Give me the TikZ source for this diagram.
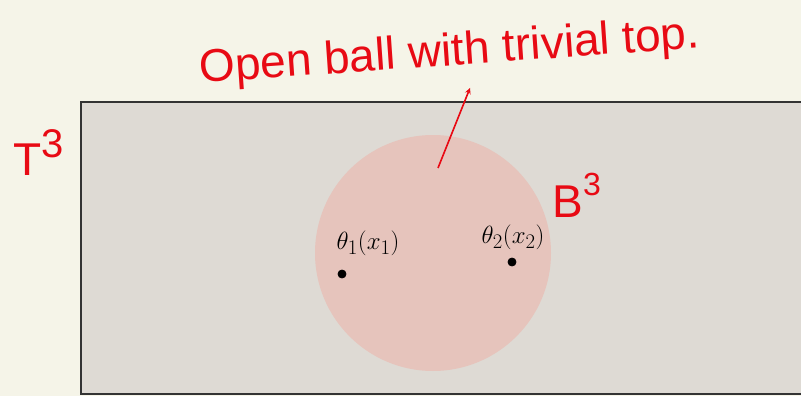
\documentclass[tikz,border=0pt]{standalone}
\usepackage{fontspec}
\setmainfont{Liberation Sans}
\usepackage{tikz}
\definecolor{paper}{RGB}{245,244,232}
\definecolor{torus}{RGB}{222,218,212}
\definecolor{ball}{RGB}{230,196,188}
\definecolor{pen}{RGB}{232,10,20}

\begin{document}
\begin{tikzpicture}[thick,x=1pt,y=-1pt]
	\tikzset{hand/.style={text=pen, inner sep=0pt, font=\fontsize{46}{50}\selectfont}}

	\clip (0,0) rectangle (801,396);
	\fill[paper] (0,0) rectangle (801,396);

	%---SHAPES---
	\draw[draw=black!80, fill=torus, line width=1.6pt] (81,102) rectangle (830,394);
	\fill[ball] (433,253) circle (118pt);

	%---NODES---
	\node[circle, draw = black!100, fill=black!100, inner sep=0pt, minimum size=8pt] (1) at (342,274) {};
	\node[circle, draw = black!100, fill=black!100, inner sep=0pt, minimum size=8pt] (2) at (512,262) {};
	\coordinate (3) at (438,168);
	\coordinate (4) at (470,88);

	%---EDGES---
	\draw[pen, -stealth, line width=1.6pt]   (3) -- (4) ;

	%---LABELS---
	\node[hand, anchor=base west, rotate=4] (title) at (200,83) {Open ball with trivial top.};
	\node[hand, anchor=base west] (T3) at (13,175) {T\raisebox{18pt}{\fontsize{40}{40}\selectfont 3}};
	\node[hand, anchor=base west] (B3) at (552,217) {B\raisebox{22pt}{\fontsize{32}{32}\selectfont 3}};
	\node[font=\Huge] (th1) at (368,243) {$\theta_1(x_1)$};
	\node[font=\Huge] (th2) at (513,237) {$\theta_2(x_2)$};

\end{tikzpicture}
\end{document}
